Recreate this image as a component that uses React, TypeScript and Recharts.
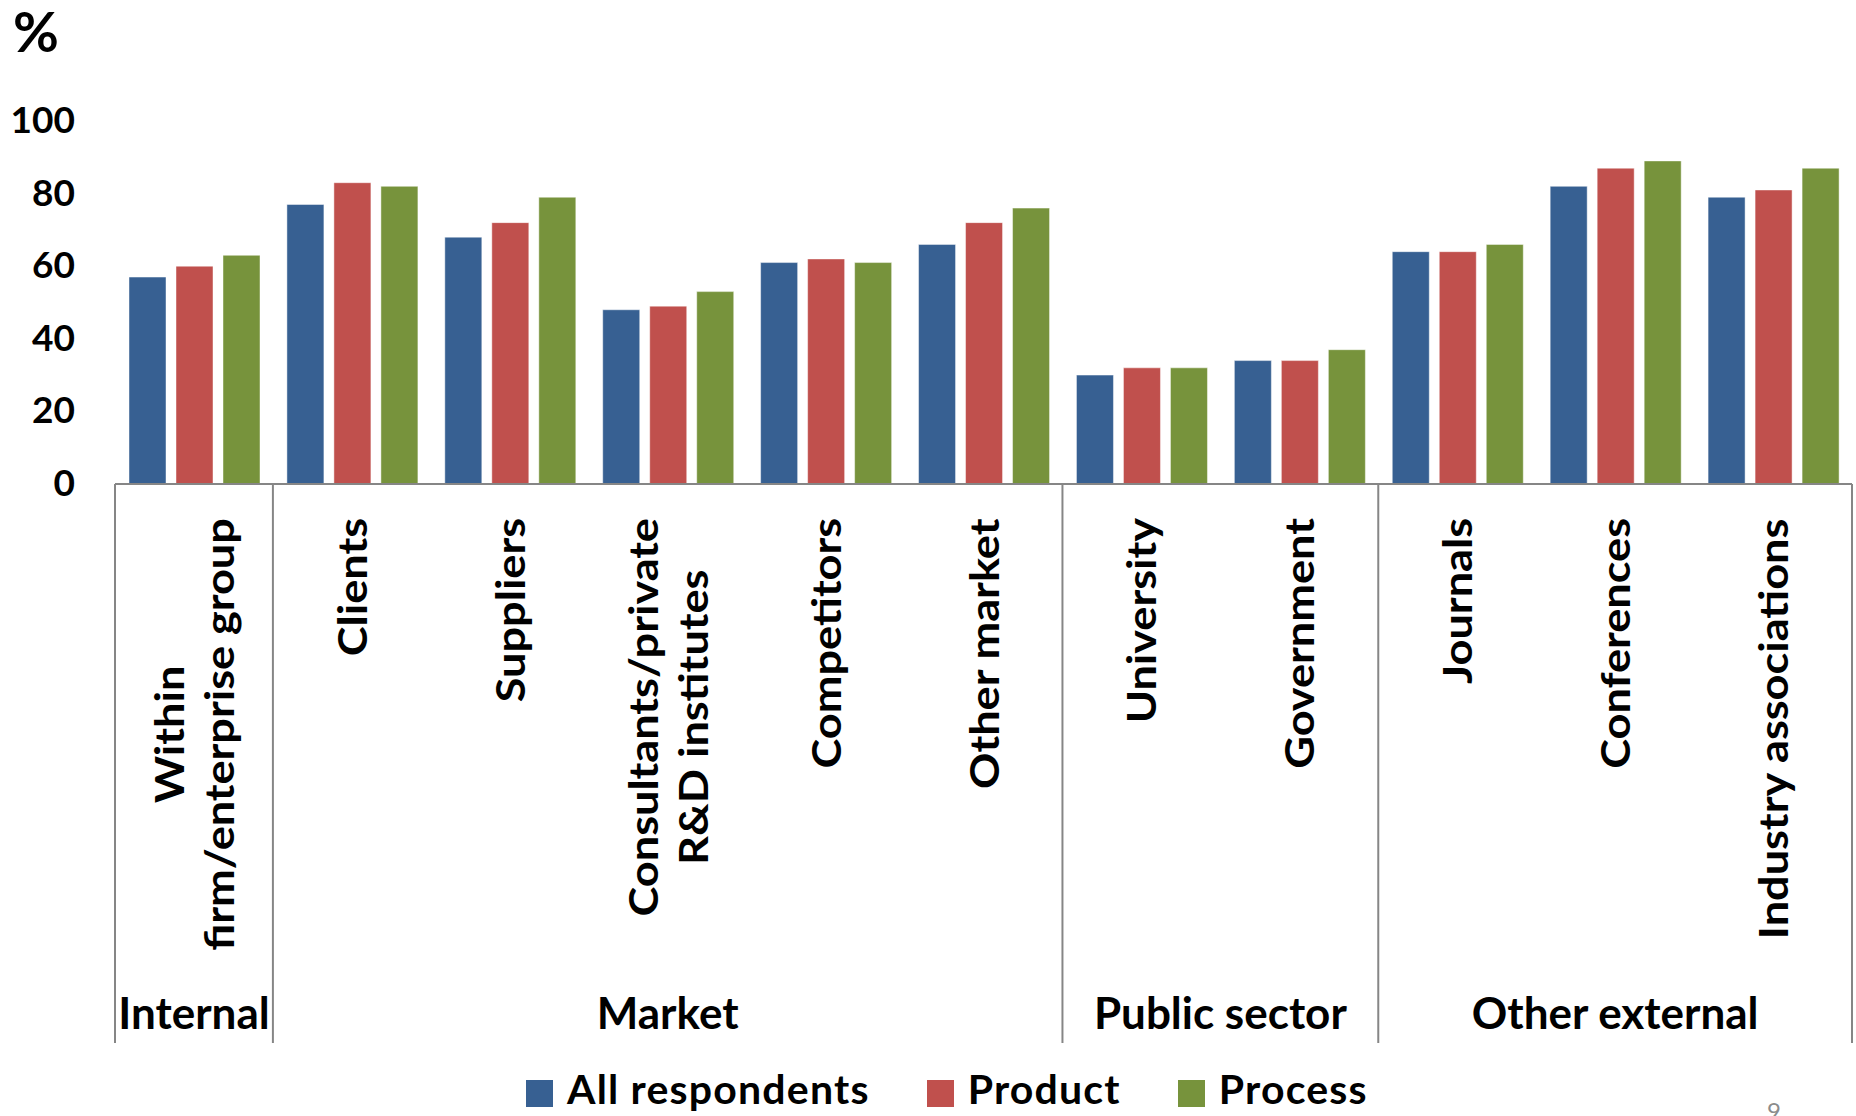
import React from 'react';
import { BarChart, Bar, XAxis, YAxis, Legend } from 'recharts';

const categories = [
  'Within\nfirm/enterprise group',
  'Clients',
  'Suppliers',
  'Consultants/private\nR&D institutes',
  'Competitors',
  'Other market',
  'University',
  'Government',
  'Journals',
  'Conferences',
  'Industry associations',
];
const groupNames = ['Internal', 'Market', 'Public sector', 'Other external'];
const categoryGroup = [0, 1, 1, 1, 1, 1, 2, 2, 3, 3, 3];
const allRespondents = [57, 77, 68, 48, 61, 66, 30, 34, 64, 82, 79];
const productValues = [60, 83, 72, 49, 62, 72, 32, 34, 64, 87, 81];
const processValues = [63, 82, 79, 53, 61, 76, 32, 37, 66, 89, 87];
const yTicks = [0, 20, 40, 60, 80, 100];
const seriesNames = ['All respondents', 'Product', 'Process'];
const seriesColors = ['#376092', '#C0504D', '#77933C'];

const data = categories.map((name, i) => ({
  name,
  all: allRespondents[i],
  product: productValues[i],
  process: processValues[i],
}));

const FONT = 'Lato, "Open Sans", sans-serif';
const CAT_SIZE = 41;
const CAT_STRETCH = 1.1;
const GROUP_SIZE = 44;
const AXIS_GRAY = '#868686';

let ctx: CanvasRenderingContext2D | null = null;
function textWidth(s: string, size: number) {
  if (!ctx && typeof document !== 'undefined') {
    ctx = document.createElement('canvas').getContext('2d');
  }
  if (!ctx) return s.length * size * 0.5;
  ctx.font = `bold ${size}px Lato`;
  return ctx.measureText(s).width;
}

const groupSizes = groupNames.map((_, g) => categoryGroup.filter((c) => c === g).length);

function CategoryTick(props: any) {
  const { x, y, payload } = props;
  const i = categories.indexOf(payload.value);
  if (i < 0) return null;
  const half = payload.offset ?? 79;
  const lines = categories[i].split('\n');
  const W = Math.max(...lines.map((l) => textWidth(l, CAT_SIZE)));
  const top = y + 34;
  const n = lines.length;
  const g = categoryGroup[i];
  const isFirst = i === 0 || categoryGroup[i - 1] !== g;
  const isLast = i === categories.length - 1;
  return (
    <g>
      <g transform={`translate(${x}, ${top}) rotate(-90) scale(${CAT_STRETCH}, 1)`}>
        {lines.map((l, k) => (
          <text
            key={k}
            x={-W / 2}
            y={15 + (k - (n - 1) / 2) * 50}
            textAnchor="middle"
            fontFamily={FONT}
            fontWeight={700}
            fontSize={CAT_SIZE}
            fill="#000"
          >
            {l}
          </text>
        ))}
      </g>
      {isFirst && (
        <>
          <line x1={x - half} x2={x - half} y1={y} y2={y + 559} stroke={AXIS_GRAY} strokeWidth={2} />
          <text
            x={x - half + groupSizes[g] * half}
            y={y + 545}
            textAnchor="middle"
            fontFamily={FONT}
            fontWeight={700}
            fontSize={GROUP_SIZE}
            fill="#000"
          >
            {groupNames[g]}
          </text>
        </>
      )}
      {isLast && (
        <line x1={x + half} x2={x + half} y1={y} y2={y + 559} stroke={AXIS_GRAY} strokeWidth={2} />
      )}
    </g>
  );
}

function YTick(props: any) {
  const { y, payload } = props;
  return (
    <text x={75} y={y + 12} textAnchor="end" fontFamily={FONT} fontWeight={700} fontSize={37} fill="#000">
      {payload.value}
    </text>
  );
}

function LegendContent(props: any) {
  const items = [...(props.payload || [])].sort(
    (a: any, b: any) => seriesNames.indexOf(a.value) - seriesNames.indexOf(b.value)
  );
  return (
    <div
      style={{
        display: 'flex',
        alignItems: 'flex-start',
        fontFamily: FONT,
        fontWeight: 700,
        fontSize: 41,
        letterSpacing: 1.2,
        lineHeight: '40px',
        whiteSpace: 'nowrap',
        color: '#000',
      }}
    >
      {items.map((e: any, k: number) => (
        <div key={k} style={{ display: 'flex', alignItems: 'flex-start', marginRight: k < items.length - 1 ? 57 : 0 }}>
          <span style={{ display: 'inline-block', width: 27, height: 27, background: e.color, marginTop: 11, marginRight: 14 }} />
          <span>{e.value}</span>
        </div>
      ))}
    </div>
  );
}

export default function App() {
  return (
    <div style={{ position: 'absolute', left: 0, top: 0, width: 1856, height: 1116, overflow: 'hidden', background: '#fff' }}>
      <BarChart
        width={1856}
        height={1116}
        data={data}
        margin={{ top: 121, right: 4, bottom: 72, left: 0 }}
        barCategoryGap={14}
        barGap={10}
      >
        <XAxis
          dataKey="name"
          interval={0}
          height={560}
          tickLine={false}
          tickSize={0}
          tickMargin={0}
          axisLine={{ stroke: AXIS_GRAY, strokeWidth: 2 }}
          tick={<CategoryTick />}
        />
        <YAxis
          domain={[0, 100]}
          ticks={yTicks}
          width={115}
          axisLine={false}
          tickLine={false}
          tick={<YTick />}
          label={{
            value: '%',
            content: () => (
              <text x={13} y={52} fontFamily={FONT} fontWeight={700} fontSize={56} fill="#000">
                %
              </text>
            ),
          }}
        />
        <Legend
          layout="horizontal"
          verticalAlign="middle"
          align="center"
          wrapperStyle={{ left: 526, top: 1069, width: 'auto', height: 'auto' }}
          content={<LegendContent />}
        />
        <Bar dataKey="all" name={seriesNames[0]} fill={seriesColors[0]} stroke="#ffffff" strokeOpacity={0.45} strokeWidth={1} isAnimationActive={false} />
        <Bar dataKey="product" name={seriesNames[1]} fill={seriesColors[1]} stroke="#ffffff" strokeOpacity={0.45} strokeWidth={1} isAnimationActive={false} />
        <Bar dataKey="process" name={seriesNames[2]} fill={seriesColors[2]} stroke="#ffffff" strokeOpacity={0.45} strokeWidth={1} isAnimationActive={false} />
      </BarChart>
      <div
        style={{
          position: 'absolute',
          left: 1767,
          top: 1099,
          fontFamily: FONT,
          fontSize: 24,
          lineHeight: '24px',
          color: '#8c8c8c',
        }}
      >
        9
      </div>
    </div>
  );
}
